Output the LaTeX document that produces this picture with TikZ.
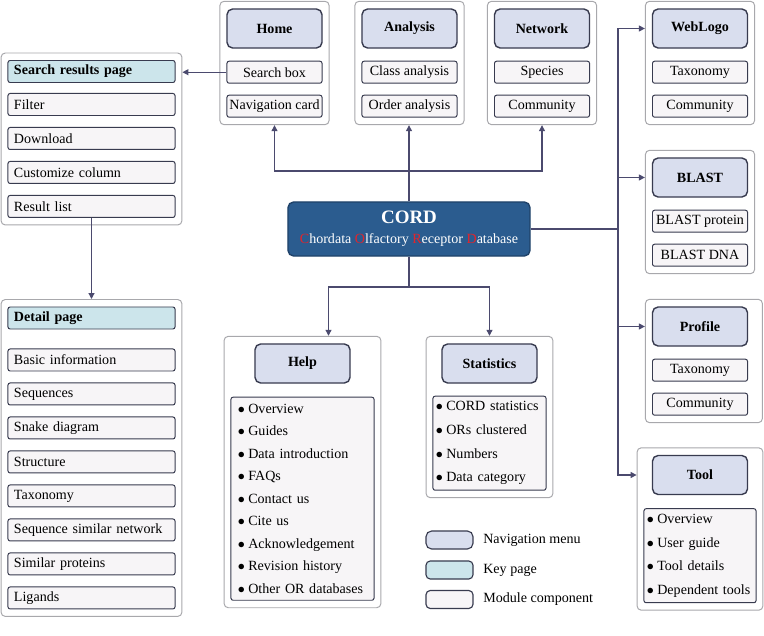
\documentclass[tikz,border=0pt]{standalone}
\usepackage{fontspec}
\setmainfont{Liberation Serif}
\usepackage{xcolor}
\usepackage{tikz}
\usetikzlibrary{positioning,arrows.meta,fit,backgrounds}

\definecolor{edgec}{HTML}{383B4F}
\definecolor{menufill}{HTML}{D9DEEE}
\definecolor{keyfill}{HTML}{CCE5EB}
\definecolor{itemfill}{HTML}{F7F5F7}
\definecolor{panelc}{HTML}{A8A8AC}
\definecolor{linkc}{HTML}{4B4A6E}
\definecolor{cordfill}{HTML}{2B5C8F}
\definecolor{cordedge}{HTML}{1F4269}
\definecolor{cordred}{HTML}{E3242B}

\newcommand{\litem}[1]{\mbox{$\bullet$\kern2.5pt#1}}

\begin{document}
\begin{tikzpicture}[
    x=0.025cm, y=-0.025cm,
    node distance=0.275cm,
    font=\fontsize{10}{12}\selectfont,
    panel/.style={draw=panelc, line width=0.7pt, rounded corners=3pt, fill=white, inner xsep=0.16cm, inner ysep=0.175cm},
    menu/.style={draw=edgec, line width=1pt, rounded corners=4pt, fill=menufill, minimum width=2.375cm, minimum height=0.975cm, font=\fontsize{10}{12}\selectfont\bfseries},
    item/.style={draw=edgec, line width=0.7pt, rounded corners=1.5pt, fill=itemfill, minimum width=2.375cm, minimum height=0.55cm, inner xsep=1pt, inner ysep=0pt},
    wide/.style={item, text width=3.875cm, inner xsep=0.15cm, align=left},
    keypg/.style={wide, fill=keyfill, font=\fontsize{10}{12}\selectfont\bfseries},
    lst/.style={draw=edgec, line width=0.7pt, rounded corners=1.5pt, fill=itemfill, align=left, inner xsep=0.07cm, font=\fontsize{10}{16.8}\selectfont},
    cordbox/.style={draw=cordedge, line width=1pt, rounded corners=4pt, fill=cordfill, text=white, align=center, minimum width=6.05cm, minimum height=1.35cm},
    swatch/.style={draw=edgec, line width=0.8pt, rounded corners=3pt, minimum width=1.175cm, minimum height=0.45cm},
    wire/.style={draw=linkc, line width=0.8pt},
    link/.style={wire, -{Triangle[length=1.5mm, width=1.5mm]}}
]
    \useasboundingbox (0,0) rectangle (764,636);

    % top menus
    \node[menu] (homenav) at (274.5,28.5) {Home};
    \node[item, below=0.3cm of homenav] (search) {Search box};
    \node[item, below=of search] (navcard) {Navigation card};

    \node[menu] (ananav) at (409.5,28.5) {Analysis};
    \node[item, below=0.3cm of ananav] (classan) {Class analysis};
    \node[item, below=of classan] (ordan) {Order analysis};

    \node[menu] (netnav) at (542,28.5) {Network};
    \node[item, below=0.3cm of netnav] (species) {Species};
    \node[item, below=of species] (netcom) {Community};

    % right column
    \node[menu] (wlnav) at (700,28.5) {WebLogo};
    \node[item, below=0.3cm of wlnav] (wltax) {Taxonomy};
    \node[item, below=of wltax] (wlcom) {Community};

    \node[menu] (blnav) at (700,177.5) {BLAST};
    \node[item, below=0.3cm of blnav] (blprot) {BLAST protein};
    \node[item, below=of blprot] (bldna) {BLAST DNA};

    \node[menu] (pronav) at (700,326.5) {Profile};
    \node[item, below=0.3cm of pronav] (protax) {Taxonomy};
    \node[item, below=of protax] (procom) {Community};
    \coordinate[right=0.2cm of procom] (proedge);

    \node[menu] (toolnav) at (700,475) {Tool};
    \node[lst, minimum width=2.8cm, minimum height=2.35cm, text width=2.66cm, below=0.325cm of toolnav] (toollst)
        {\litem{Overview}\\\litem{User guide}\\\litem{Tool details}\\\litem{Dependent tools}};

    % left column
    \node[keypg] (srkey) at (91.5,71.5) {Search results page};
    \node[wide, below=0.25cm of srkey] (filter) {Filter};
    \node[wide, below=of filter] (download) {Download};
    \node[wide, below=of download] (custcol) {Customize column};
    \node[wide, below=of custcol] (reslist) {Result list};

    \node[keypg] (detkey) at (91.5,318) {Detail page};
    \node[wide, below=0.475cm of detkey] (basic) {Basic information};
    \node[wide, below=of basic] (seqs) {Sequences};
    \node[wide, below=of seqs] (snake) {Snake diagram};
    \node[wide, below=of snake] (struct) {Structure};
    \node[wide, below=of struct] (dettax) {Taxonomy};
    \node[wide, below=of dettax] (ssn) {Sequence similar network};
    \node[wide, below=of ssn] (simprot) {Similar proteins};
    \node[wide, below=of simprot] (ligands) {Ligands};

    % help and statistics
    \node[menu] (helpnav) at (302.5,363.5) {Help};
    \node[lst, minimum width=3.575cm, minimum height=5.075cm, text width=3.235cm, inner xsep=0.17cm,
          font=\fontsize{10}{16}\selectfont, below=0.325cm of helpnav] (helplst)
        {\litem{Overview}\\\litem{Guides}\\\litem{Data introduction}\\\litem{FAQs}\\\litem{Contact us}\\
         \litem{Cite us}\\\litem{Acknowledgement}\\\litem{Revision history}\\\litem{Other OR databases}};

    \node[menu] (statnav) at (489.5,363.5) {Statistics};
    \node[lst, minimum width=2.825cm, minimum height=2.35cm, text width=2.685cm, below=0.3cm of statnav] (statlst)
        {\litem{CORD statistics}\\\litem{ORs clustered}\\\litem{Numbers}\\\litem{Data category}};

    % centre
    \node[cordbox] (cord) at (409,229)
        {{\fontsize{13.5}{16}\selectfont\bfseries CORD}\\[2pt]
         {\fontsize{10}{12}\selectfont\textcolor{cordred}{C}hordata \textcolor{cordred}{O}lfactory
          \textcolor{cordred}{R}eceptor \textcolor{cordred}{D}atabase}};

    % legend
    \node[swatch, fill=menufill, rounded corners=4pt] (lgmenu) at (449.5,540) {};
    \node[right=0.12cm of lgmenu] (lgmenutxt) {Navigation menu};
    \node[swatch, fill=keyfill] (lgkey) at (449.5,570) {};
    \node[right=0.12cm of lgkey] (lgkeytxt) {Key page};
    \node[swatch, fill=itemfill] (lgitem) at (449.5,599.5) {};
    \node[right=0.12cm of lgitem] (lgitemtxt) {Module component};

    % module panels
    \begin{scope}[on background layer]
        \node[panel, fit=(homenav)(navcard)] (homebox) {};
        \node[panel, fit=(ananav)(ordan)] (anabox) {};
        \node[panel, fit=(netnav)(netcom)] (netbox) {};
        \node[panel, fit=(wlnav)(wlcom)] (wlbox) {};
        \node[panel, fit=(blnav)(bldna)] (blbox) {};
        \node[panel, fit=(pronav)(procom)(proedge)] (probox) {};
        \node[panel, fit=(toolnav)(toollst)] (toolbox) {};
        \node[panel, fit=(srkey)(reslist)] (srbox) {};
        \node[panel, fit=(detkey)(ligands)] (detbox) {};
        \node[panel, fit=(helpnav)(helplst)] (helpbox) {};
        \node[panel, fit=(statnav)(statlst)] (statbox) {};
    \end{scope}

    % connectors
    \coordinate (upfork) at (409,171);
    \coordinate (downfork) at (409,287);
    \coordinate (rbus) at (618,229);

    \draw[link] (cord.north) -- (cord.north |- anabox.south);
    \draw[link] (upfork) -| (homebox.south);
    \draw[link] (upfork) -| (netbox.south);
    \draw[link] (search.west) -- (search.west -| srbox.east);
    \draw[link] (reslist.south) -- (reslist.south |- detbox.north);
    \draw[wire] (cord.south) -- (downfork);
    \draw[link] (downfork) -| ([xshift=0.65cm]helpbox.north);
    \draw[link] (downfork) -| (statbox.north);
    \draw[wire] (cord.east) -- (rbus);
    \draw[link] (rbus) |- (wlnav -| wlbox.west);
    \draw[link] (rbus) |- (blnav -| blbox.west);
    \draw[link] (rbus) |- (pronav -| probox.west);
    \draw[link] (rbus) |- (toolnav -| toolbox.west);
\end{tikzpicture}
\end{document}
